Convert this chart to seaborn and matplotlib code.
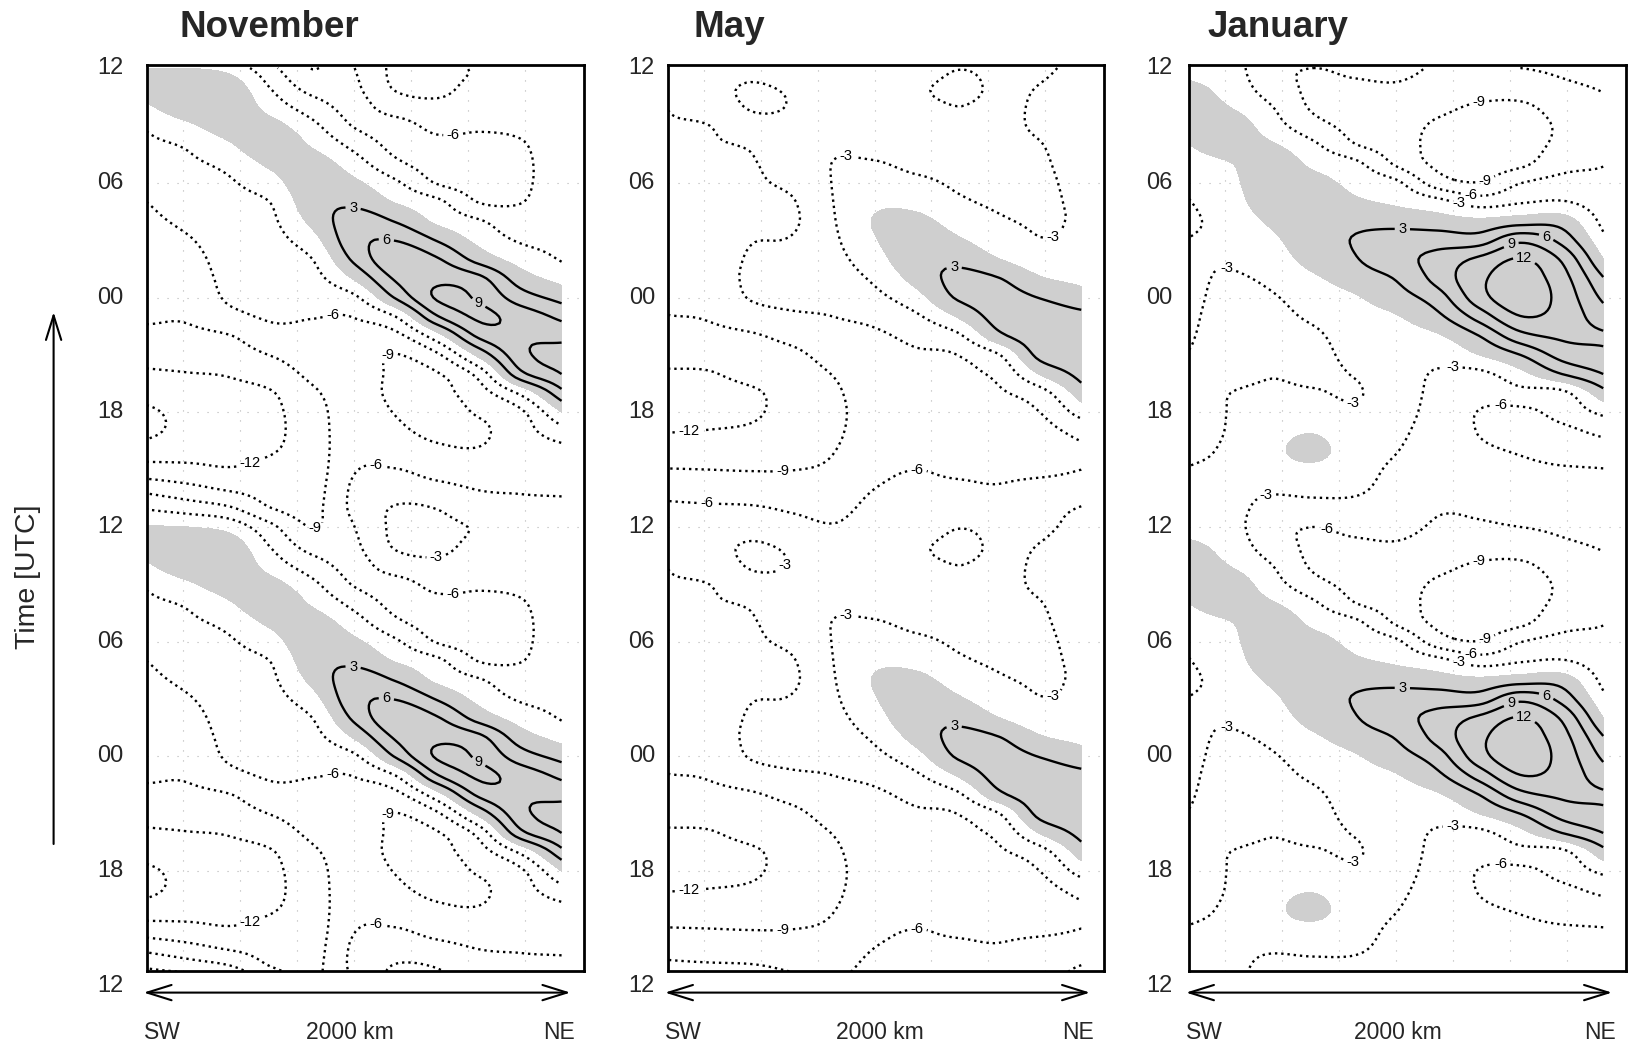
import numpy as np
import matplotlib
matplotlib.use("Agg")
import matplotlib.pyplot as plt
from matplotlib.patches import FancyArrowPatch
import seaborn as sns

# ---------------- data ----------------
distance_km = [0, 200, 400, 600, 800, 1000, 1200, 1400, 1600, 1800, 2000]
hour_of_day = list(range(24))          # hours after 12 UTC (one diurnal cycle, drawn twice)
hour_tick_labels = ["12", "18", "00", "06", "12", "18", "00", "06", "12"]
panel_titles = ["November", "May", "January"]
neg_levels = [-15, -12, -9, -6, -3]
pos_levels = [3, 6, 9, 12]

# one list of 24 hourly values per distance column
november_cols = [
    [0.2, -3.3, -6.9, -10.8, -13.5, -15.7, -15.6, -13.7, -12.4, -11.0, -9.6, -8.7, -8.3, -7.8, -7.4, -7.0, -6.5, -6.0, -5.3, -4.5, -3.6, -2.6, -0.4, 1.5],
    [0.0, -4.4, -8.1, -11.25, -13.0, -14.0, -14.0, -13.2, -12.1, -10.8, -9.6, -8.7, -8.1, -7.5, -6.9, -6.2, -5.5, -4.9, -4.2, -3.5, -2.6, -0.5, 2.0, 2.3],
    [-1.1, -5.7, -9.4, -11.8, -12.8, -13.4, -13.4, -12.8, -11.8, -10.4, -9.1, -6.8, -5.6, -5.2, -4.9, -4.6, -4.2, -3.8, -3.3, -2.2, -0.3, 1.5, 2.5, 1.8],
    [-5.3, -9.0, -10.1, -11.2, -12.2, -12.7, -12.7, -12.2, -10.6, -8.9, -7.0, -5.7, -5.3, -4.9, -4.5, -4.0, -3.5, -2.9, -1.2, 0.6, 2.2, 1.0, -1.3, -3.2],
    [-9.1, -9.8, -10.2, -10.5, -10.5, -10.3, -10.0, -9.4, -8.4, -7.5, -6.7, -5.9, -4.9, -4.0, -3.0, -1.1, 0.8, 2.0, 2.3, 1.5, -0.4, -2.3, -4.7, -7.1],
    [-6.05, -5.3, -5.5, -6.2, -7.0, -7.5, -7.8, -8.0, -7.8, -7.3, -6.8, -5.9, -3.6, 0.3, 3.6, 5.0, 4.5, 2.3, 0.6, -1.6, -3.9, -6.2, -6.8, -6.5],
    [-2.4, -2.8, -4.5, -5.9, -7.5, -8.5, -9.1, -9.5, -9.4, -9.1, -6.8, -3.0, 3.3, 6.4, 8.0, 5.9, 2.8, -0.2, -2.5, -5.4, -6.8, -6.9, -4.6, -2.7],
    [-2.4, -3.1, -5.2, -7.0, -8.5, -9.6, -10.0, -9.8, -9.2, -6.5, -1.2, 5.7, 9.3, 8.3, 6.3, 2.8, -0.6, -2.3, -6.2, -7.0, -6.6, -5.3, -3.6, -2.4],
    [-3.3, -4.8, -6.1, -7.3, -8.8, -9.5, -8.7, -7.3, -5.0, 0.8, 6.6, 9.4, 8.6, 6.8, 1.9, -0.8, -2.7, -6.1, -7.0, -7.0, -6.5, -5.7, -4.6, -3.8],
    [-4.8, -5.5, -6.2, -7.0, -7.4, -7.2, -6.6, -2.5, 5.0, 8.0, 8.5, 7.8, 4.5, 1.5, -1.2, -3.3, -4.8, -6.1, -6.5, -6.5, -6.2, -5.5, -5.0, -4.8],
    [-5.0, -5.6, -6.3, -7.2, -6.8, -4.2, 0.0, 5.0, 9.0, 10.3, 8.0, 5.3, 2.0, -1.0, -3.2, -3.7, -4.0, -4.3, -4.5, -4.6, -4.6, -4.7, -4.8, -4.9],
]
may_cols = [
    [-4.8, -5.5, -7.1, -8.9, -10.5, -12.1, -13.2, -13.4, -12.4, -10.9, -9.9, -9.05, -8.7, -8.4, -8.1, -7.8, -7.5, -7.2, -6.9, -6.7, -6.4, -6.2, -5.9, -5.0],
    [-4.6, -5.6, -7.6, -9.0, -10.5, -11.9, -12.8, -13.0, -12.2, -10.9, -9.7, -8.8, -8.3, -7.9, -7.6, -7.3, -7.0, -6.8, -6.6, -6.4, -6.2, -6.0, -4.6, -3.8],
    [-3.9, -5.7, -7.8, -9.1, -10.5, -11.6, -12.4, -12.4, -11.1, -10.0, -9.3, -7.4, -5.8, -5.4, -5.7, -6.1, -6.3, -6.4, -6.3, -6.2, -5.7, -4.0, -2.8, -2.8],
    [-4.9, -6.4, -7.8, -9.05, -10.0, -10.7, -11.0, -10.9, -10.4, -9.6, -8.2, -6.5, -5.1, -4.8, -5.0, -5.8, -6.4, -6.2, -5.4, -4.6, -4.0, -3.5, -3.1, -3.4],
    [-5.8, -6.8, -7.6, -8.5, -9.1, -9.6, -9.8, -9.5, -8.9, -7.9, -6.9, -6.0, -5.1, -4.4, -3.9, -3.5, -3.2, -3.0, -2.9, -2.95, -3.3, -3.6, -3.9, -4.6],
    [-4.6, -5.3, -6.0, -6.5, -6.9, -7.2, -7.3, -7.3, -7.1, -6.8, -6.4, -5.3, -3.8, -2.5, -1.2, -0.2, 0.2, -0.6, -1.6, -2.8, -3.8, -4.0, -4.0, -4.2],
    [-4.5, -5.2, -5.7, -6.0, -6.4, -6.7, -6.8, -6.8, -6.6, -6.3, -5.3, -3.5, -1.1, 1.0, 2.1, 1.9, 0.8, -0.9, -2.4, -3.6, -4.0, -3.8, -3.5, -3.4],
    [-3.1, -4.6, -5.6, -6.3, -6.6, -6.7, -6.7, -6.6, -6.4, -6.0, -3.6, 0.2, 3.3, 3.8, 2.2, 0.4, -1.2, -2.6, -3.3, -3.5, -3.4, -3.2, -3.0, -2.5],
    [-3.6, -4.6, -5.8, -6.4, -6.6, -6.6, -6.5, -6.3, -5.3, -3.2, 2.2, 4.2, 4.2, 3.1, 0.1, -1.6, -2.7, -3.3, -3.4, -3.4, -3.3, -3.3, -3.3, -3.3],
    [-3.3, -3.8, -5.0, -6.6, -6.9, -6.8, -6.0, -4.3, 0.2, 3.9, 4.8, 4.5, 2.9, 0.3, -1.8, -2.9, -3.2, -3.3, -3.3, -3.2, -3.05, -2.8, -2.8, -2.95],
    [-2.5, -2.9, -4.5, -6.0, -6.3, -5.2, -1.8, 1.5, 4.0, 5.0, 4.8, 3.8, 1.3, -0.8, -2.0, -2.6, -2.8, -2.7, -2.5, -2.3, -2.2, -2.2, -2.3, -2.4],
]
january_cols = [
    [-1.5, -2.0, -2.5, -2.9, -3.5, -4.0, -4.2, -4.0, -3.7, -3.1, -2.8, -2.6, -2.5, -2.6, -2.8, -2.95, -3.4, -3.1, -2.3, -1.2, 0.0, 1.2, 1.6, 0.8],
    [-2.0, -2.2, -2.4, -2.5, -2.6, -2.8, -2.9, -3.0, -3.6, -3.9, -4.0, -3.9, -3.6, -3.2, -2.8, -2.4, -2.0, -1.4, -0.8, -0.1, 1.5, 1.7, -0.1, -1.2],
    [-5.0, -3.9, -2.6, -1.3, -0.8, -1.2, -2.2, -2.7, -3.1, -3.6, -3.8, -3.6, -3.2, -2.5, -1.6, -0.7, 0.6, 2.0, 2.6, 2.0, 0.3, -1.7, -2.95, -4.5],
    [-6.0, -4.0, -2.2, -0.8, 1.0, -0.2, -1.8, -2.8, -3.4, -3.6, -3.4, -2.6, -1.8, -0.5, 1.2, 2.4, 2.8, 2.4, 1.2, -0.7, -2.5, -5.0, -6.4, -6.5],
    [-5.3, -3.9, -2.5, -2.0, -1.9, -2.2, -2.7, -3.2, -2.9, -2.4, -1.8, -1.1, -0.3, 1.5, 2.8, 3.1, 2.4, 0.5, -0.9, -2.3, -5.9, -6.8, -7.0, -6.5],
    [-5.2, -4.7, -4.1, -3.5, -2.9, -2.5, -2.2, -2.0, -1.9, -1.6, -1.0, -0.2, 1.7, 3.2, 4.9, 4.5, 1.8, -0.5, -2.4, -6.4, -7.4, -7.7, -7.3, -6.3],
    [-6.3, -5.8, -5.3, -4.9, -4.6, -4.3, -4.0, -3.7, -3.3, -2.0, -0.3, 2.3, 4.6, 7.0, 7.0, 4.6, 1.3, -2.0, -7.5, -9.6, -10.0, -9.4, -8.3, -7.2],
    [-6.3, -5.7, -5.3, -5.3, -5.6, -6.1, -6.1, -5.0, -3.7, 0.0, 3.0, 7.2, 10.7, 11.3, 9.6, 4.5, 0.7, -4.4, -8.9, -10.3, -10.6, -10.1, -9.3, -7.6],
    [-6.0, -5.3, -5.1, -5.5, -6.2, -7.0, -6.6, -4.0, -0.9, 3.0, 8.0, 11.9, 14.0, 13.5, 12.2, 8.3, 1.6, -3.3, -6.1, -9.6, -10.2, -10.0, -9.4, -7.6],
    [-5.6, -5.3, -5.4, -5.8, -6.8, -6.6, -5.0, -3.8, 3.0, 7.1, 9.5, 10.8, 10.9, 10.2, 8.6, 5.0, 1.6, -2.8, -5.0, -7.0, -8.3, -8.6, -7.9, -6.5],
    [-5.2, -5.2, -5.5, -5.95, -6.7, -5.4, -2.3, 1.9, 6.0, 8.3, 9.3, 7.4, 5.4, 3.2, 0.1, -2.2, -3.8, -4.6, -5.4, -6.1, -6.7, -6.8, -6.5, -5.8],
]
# contour labels seen in the figure: (level, km, hour of day, which half)
november_labels = [(-6, 1478, 20.4, "both"), (3, 996, 16.8, "both"), (6, 1156, 15.1, "both"),
                   (9, 1590, 11.5, "both"), (-6, 899, 11.0, "both"), (-9, 1156, 9.3, "both"),
                   (-12, 506, 3.0, "both"), (-6, 1108, 3.5, "both"), (-9, 810, 23.8, "lower"),
                   (-3, 1395, 22.7, "lower")]
may_labels = [(-3, 863, 19.7, "both"), (-3, 1869, 14.9, "both"), (3, 1385, 14.0, "both"),
              (-12, 100, 4.9, "both"), (-9, 555, 2.8, "both"), (-6, 187, 1.4, "upper"),
              (-6, 1205, 3.0, "both"), (-3, 604, 21.6, "lower")]
january_labels = [(-9, 1402, 22.2, "both"), (-9, 1430, 18.1, "both"), (-6, 1360, 17.42, "both"),
                  (-3, 1300, 16.85, "both"), (3, 1030, 15.5, "both"), (6, 1720, 15.0, "both"),
                  (9, 1560, 14.6, "both"), (12, 1620, 14.05, "both"), (-3, 185, 13.7, "both"),
                  (-3, 792, 6.6, "both"), (-3, 1273, 8.8, "both"), (-6, 1505, 6.8, "both"),
                  (-3, 374, 1.6, "upper"), (-6, 665, 23.85, "lower")]


# ---------------- helpers ----------------
def catmull_rom(a, sub, axis, periodic):
    a = np.moveaxis(np.asarray(a, float), axis, 0)
    n = a.shape[0]
    if periodic:
        P = np.concatenate([a[-1:], a, a[:2]], axis=0)
        u = np.linspace(0, n, n * sub + 1)
        i = np.minimum(np.floor(u).astype(int), n - 1)
    else:
        P = np.concatenate([2 * a[:1] - a[1:2], a, 2 * a[-1:] - a[-2:-1]], axis=0)
        u = np.linspace(0, n - 1, (n - 1) * sub + 1)
        i = np.minimum(np.floor(u).astype(int), n - 2)
    f = (u - i).reshape((-1,) + (1,) * (a.ndim - 1))
    p0, p1, p2, p3 = P[i], P[i + 1], P[i + 2], P[i + 3]
    out = 0.5 * (2 * p1 + (p2 - p0) * f + (2 * p0 - 5 * p1 + 4 * p2 - p3) * f ** 2
                 + (3 * p1 - p0 - 3 * p2 + p3) * f ** 3)
    return np.moveaxis(out, 0, axis)


def build_field(cols):
    day = np.array(cols, float).T            # (24 hours, 11 distances)
    two_days = np.vstack([day, day])
    z = catmull_rom(two_days, 6, axis=0, periodic=True)
    z = catmull_rom(z, 10, axis=1, periodic=False)
    return z


# ---------------- style ----------------
sns.set_theme(style="white")
plt.rcParams["font.family"] = ["Liberation Sans", "DejaVu Sans"]

W, H = 1629, 1042
fig = plt.figure(figsize=(W / 100, H / 100), dpi=100)
fig.patch.set_facecolor("white")

frame_top, frame_bot = 64.6, 970.8
panel_left = [146.6, 668.0, 1189.0]
panel_width = [437.8, 436.0, 437.0]
tick_pad = [-0.052, -0.030, -0.037]
title_x = [180, 694, 1207]
km_center_x = [350, 880, 1398]

n_days_hours = 48
hours = np.linspace(0, n_days_hours, n_days_hours * 6 + 1)
km = np.linspace(distance_km[0], distance_km[-1], (len(distance_km) - 1) * 10 + 1)
KM, HH = np.meshgrid(km, hours)

fields = [november_cols, may_cols, january_cols]
labels_all = [november_labels, may_labels, january_labels]
grid_km = [175, 450, 725, 1000, 1275, 1550, 1825]

for k in range(3):
    ax = fig.add_axes([panel_left[k] / W, 1 - frame_bot / H,
                       panel_width[k] / W, (frame_bot - frame_top) / H])
    Z = build_field(fields[k])
    for g in grid_km:
        ax.axvline(g, color="#b4b4b4", lw=0.8, ls=(0, (1, 8)), zorder=0.5)
    for h in range(6, 48, 6):
        ax.axhline(h, color="#b4b4b4", lw=0.8, ls=(0, (1, 8)), zorder=0.5)
    ax.contourf(KM, HH, Z, levels=[0, 100], colors=["#cfcfcf"], zorder=1)
    cn = ax.contour(KM, HH, Z, levels=neg_levels, colors="black",
                    linestyles="dotted", linewidths=1.7, zorder=2)
    cp = ax.contour(KM, HH, Z, levels=pos_levels, colors="black",
                    linestyles="solid", linewidths=1.7, zorder=2)
    neg_pos, pos_pos = [], []
    for lev, x, t, where in labels_all[k]:
        hs = []
        if where in ("both", "lower"):
            hs.append(t)
        if where in ("both", "upper"):
            hs.append(t + 24)
        for h in hs:
            (neg_pos if lev < 0 else pos_pos).append((x, h))
    texts = []
    if neg_pos:
        texts += ax.clabel(cn, manual=neg_pos, inline=True, fmt="%d", fontsize=10.5,
                           inline_spacing=4)
    if pos_pos:
        texts += ax.clabel(cp, manual=pos_pos, inline=True, fmt="%d", fontsize=10.5,
                           inline_spacing=4)
    for t in texts:
        t.set_rotation(0)

    ax.set_xlim(0, 2110)
    ax.set_ylim(0.79, 48.18)
    ax.set_xticks([])
    ax.set_yticks([])
    for s in ax.spines.values():
        s.set_color("black")
        s.set_linewidth(2.0)
        s.set_visible(True)
    for j, lab in enumerate(hour_tick_labels):
        ax.text(tick_pad[k], j * 6, lab, transform=ax.get_yaxis_transform(),
                ha="right", va="center", fontsize=17, clip_on=False)

    # title
    fig.text(title_x[k] / W, 1 - 37.5 / H, panel_titles[k], fontsize=26.5,
             fontweight="bold", ha="left", va="baseline")
    # distance arrow and texts
    x0 = panel_left[k] - 3
    x1 = panel_left[k] + panel_width[k] - 14
    arr = FancyArrowPatch((x0 / W, 1 - 992.6 / H), (x1 / W, 1 - 992.6 / H),
                          transform=fig.transFigure,
                          arrowstyle="<->,head_length=0.8,head_width=0.25",
                          mutation_scale=22, lw=1.5, color="black",
                          shrinkA=0, shrinkB=0)
    fig.add_artist(arr)
    fig.text((panel_left[k] - 3) / W, 1 - 1039 / H, "SW", fontsize=16.5,
             ha="left", va="baseline")
    fig.text(km_center_x[k] / W, 1 - 1039 / H, "2000 km", fontsize=16.5,
             ha="center", va="baseline")
    fig.text((panel_left[k] + panel_width[k] - 10) / W, 1 - 1039 / H, "NE",
             fontsize=16.5, ha="right", va="baseline")

# y-axis label and arrow
fig.text(28 / W, 1 - 577 / H, "Time [UTC]", rotation=90, fontsize=20.5,
         ha="center", va="center")
yarr = FancyArrowPatch((53.6 / W, 1 - 844 / H), (53.6 / W, 1 - 312 / H),
                       transform=fig.transFigure,
                       arrowstyle="->,head_length=0.8,head_width=0.25",
                       mutation_scale=22, lw=1.5, color="black",
                       shrinkA=0, shrinkB=0)
fig.add_artist(yarr)

fig.savefig("out.png", dpi=100)
